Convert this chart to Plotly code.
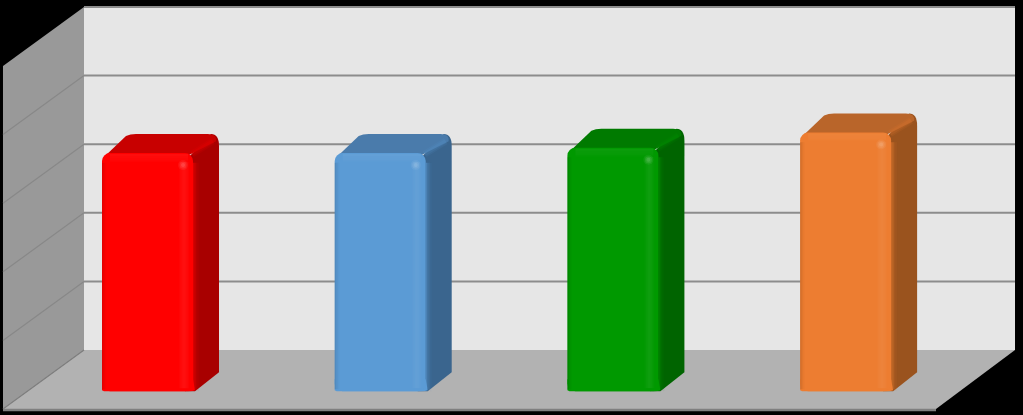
import plotly.graph_objects as go

# values read off the gridlines, no labels in the picture
categories = [0, 1, 2, 3]
values = [3.47, 3.47, 3.55, 3.77]
grid_ticks = [0, 1, 2, 3, 4, 5]

front_colors = ["#FF0000", "#5B9BD5", "#009900", "#ED7D31"]
top_colors = ["#C80000", "#4A7BAB", "#007A00", "#B9652A"]
side_colors = ["#A80000", "#3A658E", "#006400", "#9A531E"]

W = 1023
H = 415
# pixels per axis unit
PX_X = 232.7
PX_Y = 68.6
bar_width = 91 / PX_X
bar_base = -0.6  # bars stand in front of the back wall
wall_left = (84 - 147.5) / PX_X
wall_right = (1015 - 147.5) / PX_X
wall_dx = 81 / PX_X
floor_right_dx = 79 / PX_X
wall_dy = 59 / PX_Y
bar_dx = 26 / PX_X
bar_dy = 19 / PX_Y


def px_x(n):
    return n / PX_X


def px_y(n):
    return n / PX_Y


def poly(points):
    return "M " + " L ".join(f"{x:.4f},{y:.4f}" for x, y in points) + " Z"


shapes = []


def add_poly(points, color, layer="below"):
    shapes.append(
        dict(type="path", path=poly(points), xref="x", yref="y", fillcolor=color,
             line_width=0, layer=layer)
    )


def add_line(x0, y0, x1, y1, color, width, layer="below", opacity=1):
    shapes.append(
        dict(type="line", x0=x0, y0=y0, x1=x1, y1=y1, xref="x", yref="y",
             line=dict(color=color, width=width), layer=layer, opacity=opacity)
    )


def add_strip(x0, x1, y0, y1, color, opacity):
    shapes.append(
        dict(type="rect", x0=x0, x1=x1, y0=y0, y1=y1, xref="x", yref="y",
             fillcolor=color, opacity=opacity, line_width=0, layer="above")
    )


# walls and floor
add_poly(
    [(wall_left, 0), (wall_right, 0), (wall_right, 5), (wall_left, 5)], "#E6E6E6"
)
add_poly(
    [(wall_left, 5), (wall_left, 0), (wall_left - wall_dx, -wall_dy),
     (wall_left - wall_dx, 5 - wall_dy)],
    "#999999",
)
add_poly(
    [(wall_left, 0), (wall_right, 0), (wall_right - floor_right_dx, -wall_dy),
     (wall_left - wall_dx, -wall_dy)],
    "#B2B2B2",
)
for t in grid_ticks[1:]:
    add_line(wall_left, t, wall_right, t, "#8C8C8C", 2)
    if t < 5:
        add_line(wall_left, t, wall_left - wall_dx, t - wall_dy, "#888888", 1.2)
add_line(wall_left, 0, wall_left - wall_dx, -wall_dy, "#808080", 1.2)
add_line(wall_left - wall_dx, -wall_dy - px_y(1), wall_right - floor_right_dx,
         -wall_dy - px_y(1), "#7F7F7F", 2.5)

# top and side of each bar, plus the bevel strips on the front
for c, v, front, top_c, side_c in zip(
    categories, values, front_colors, top_colors, side_colors
):
    xl = c - bar_width / 2
    xr = c + bar_width / 2
    yt = bar_base + v
    yb = bar_base
    rx = px_x(8)
    ry = px_y(8)
    bx = xr + bar_dx
    by = yt + bar_dy
    side_path = (
        f"M {xr - rx:.4f},{yt - ry:.4f} L {bx - rx:.4f},{by:.4f} "
        f"Q {bx:.4f},{by:.4f} {bx:.4f},{by - ry * 1.5:.4f} "
        f"L {bx:.4f},{yb + bar_dy:.4f} L {xr + px_x(2):.4f},{yb:.4f} "
        f"L {xr - rx:.4f},{yb:.4f} Z"
    )
    shapes.append(dict(type="path", path=side_path, xref="x", yref="y",
                       fillcolor=side_c, line_width=0, layer="below"))
    top_path = (
        f"M {xl + px_x(2):.4f},{yt - ry / 2:.4f} "
        f"L {xl + bar_dx - px_x(2):.4f},{by - px_y(2):.4f} "
        f"Q {xl + bar_dx + px_x(2):.4f},{by:.4f} {xl + bar_dx + rx:.4f},{by:.4f} "
        f"L {bx - rx * 1.4:.4f},{by:.4f} "
        f"Q {bx - px_x(2):.4f},{by:.4f} {bx - px_x(3):.4f},{by - ry * 0.9:.4f} "
        f"L {xr - rx:.4f},{yt - ry / 2:.4f} Z"
    )
    shapes.append(dict(type="path", path=top_path, xref="x", yref="y",
                       fillcolor=top_c, line_width=0, layer="below"))
    # square off the foot of the bar
    foot_path = (
        f"M {xl:.4f},{yb + ry * 1.5:.4f} L {xl:.4f},{yb + px_y(1):.4f} "
        f"L {xl + px_x(2):.4f},{yb:.4f} L {xr - px_x(5):.4f},{yb:.4f} "
        f"Q {xr:.4f},{yb:.4f} {xr + px_x(2):.4f},{yb + px_y(1):.4f} "
        f"L {xr:.4f},{yb + ry * 1.5:.4f} Z"
    )
    shapes.append(dict(type="path", path=foot_path, xref="x", yref="y",
                       fillcolor=front, line_width=0, layer="below"))

    # soft edge between top and side
    for w, op in [(7, 0.1), (4, 0.15)]:
        add_line(xr - px_x(1), yt - px_y(1), bx - px_x(6), by - px_y(7), front, w,
                 layer="above", opacity=op)
    # left edge darker
    for i, op in enumerate([0.3, 0.15, 0.06]):
        add_strip(xl + px_x(i * 1.5), xl + px_x((i + 1) * 1.5), yb + px_y(2),
                  yt - ry * 1.2, side_c, op)
    # lighter band at the right, fading in and out
    band = [0.015, 0.03, 0.04, 0.05, 0.06, 0.06, 0.05, 0.04, 0.03, 0.015]
    for i, op in enumerate(band):
        add_strip(xr - px_x(14 - i), xr - px_x(13 - i), yb + px_y(3), yt - px_y(9),
                  "#FFFFFF", op)
    # lighter band under the top edge
    for i, op in enumerate([0.05, 0.05, 0.04, 0.04, 0.03, 0.03, 0.02, 0.01]):
        add_strip(xl + px_x(8), xr - px_x(5), yt - px_y(i + 2), yt - px_y(i + 1),
                  "#FFFFFF", op)
    # front colour fading into the side
    for i, op in enumerate([0.55, 0.3, 0.15, 0.06]):
        add_strip(xr + px_x(i * 1.5), xr + px_x((i + 1) * 1.5), yb + px_y(3 - i),
                  yt - ry * 1.2, front, op)
    # small glint at the corner
    for d, op in [(0, 0.06), (1.5, 0.08), (3, 0.1)]:
        shapes.append(
            dict(type="circle", x0=xr - px_x(15 - d), x1=xr - px_x(5 + d),
                 y0=yt - px_y(17 - d), y1=yt - px_y(7 + d), xref="x", yref="y",
                 fillcolor="#FFFFFF", opacity=op, line_width=0, layer="above")
        )

fig = go.Figure(
    go.Bar(
        x=categories,
        y=values,
        base=bar_base,
        width=bar_width,
        marker=dict(color=front_colors, cornerradius=8, line_width=0),
        hoverinfo="skip",
    )
)
fig.update_layout(
    width=W,
    height=H,
    margin=dict(l=0, r=0, t=0, b=0),
    paper_bgcolor="black",
    plot_bgcolor="black",
    showlegend=False,
    shapes=shapes,
    xaxis=dict(visible=False, range=[-147.5 / PX_X, (W - 147.5) / PX_X]),
    yaxis=dict(visible=False, range=[(350 - H) / PX_Y, 350 / PX_Y]),
)
fig.write_html(
    "out.html",
    config={"displayModeBar": False},
    post_script="document.body.style.margin='0';document.body.style.background='black';",
)
